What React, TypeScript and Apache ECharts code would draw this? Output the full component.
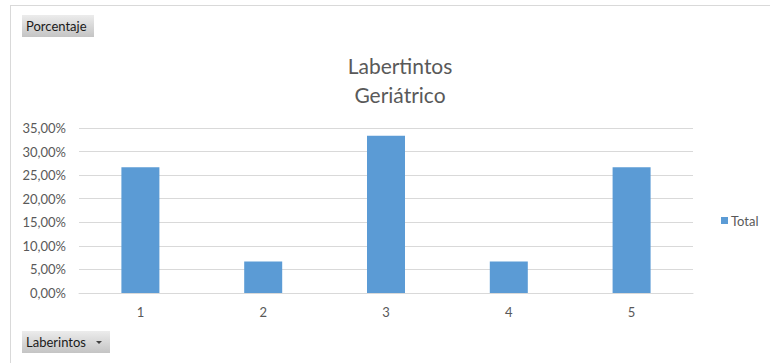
import React, { useEffect, useRef } from "react";
import * as echarts from "echarts";

const categories = ["1", "2", "3", "4", "5"];
const totals = [26.67, 6.67, 33.33, 6.67, 26.67];
const titleLines = ["Labertintos", "Geriátrico"];
const seriesName = "Total";
const valueButton = "Porcentaje";
const axisButton = "Laberintos";

const FONT = "Lato, 'Open Sans', sans-serif";
const TEXT = "#595959";

function fieldButton(x: number, y: number, w: number, label: string, arrow: boolean) {
  const children: any[] = [
    {
      type: "rect",
      shape: { x: 0, y: 0, width: w, height: 22 },
      style: {
        fill: new echarts.graphic.LinearGradient(0, 0, 0, 1, [
          { offset: 0, color: "#ececec" },
          { offset: 1, color: "#c4c4c4" },
        ]),
      },
    },
    {
      type: "text",
      x: 4,
      y: 11,
      style: { text: label, fill: "#1a1a1a", font: `13px ${FONT}`, verticalAlign: "middle" },
    },
  ];
  if (arrow) {
    children.push({
      type: "polygon",
      shape: { points: [[w - 14, 10], [w - 8, 10], [w - 11, 13]] },
      style: { fill: "#404040" },
    });
  }
  return { type: "group", x, y, children };
}

export default function App() {
  const ref = useRef<HTMLDivElement>(null);

  useEffect(() => {
    const chart = echarts.init(ref.current!, undefined, { renderer: "svg" });
    chart.setOption({
      animation: false,
      backgroundColor: "#ffffff",
      title: {
        text: titleLines.join("\n"),
        left: 395,
        textAlign: "center",
        top: 46,
        textStyle: { color: TEXT, fontFamily: FONT, fontSize: 21, fontWeight: "normal", lineHeight: 29 },
      },
      legend: {
        data: [seriesName],
        orient: "vertical",
        left: 716,
        top: 209,
        itemWidth: 7,
        itemHeight: 7,
        itemGap: 4,
        icon: "rect",
        textStyle: { color: TEXT, fontFamily: FONT, fontSize: 13, padding: [0, 0, 0, -2] },
      },
      grid: { left: 79, right: 77, top: 128, bottom: 70, containLabel: false },
      xAxis: {
        type: "category",
        data: categories,
        axisLine: { lineStyle: { color: "#d9d9d9" } },
        axisTick: { show: false },
        axisLabel: { color: TEXT, fontFamily: FONT, fontSize: 13, margin: 12 },
      },
      yAxis: {
        type: "value",
        min: 0,
        max: 35,
        interval: 5,
        axisLine: { show: false },
        axisTick: { show: false },
        splitLine: { lineStyle: { color: "#d9d9d9" } },
        axisLabel: {
          color: TEXT,
          fontFamily: FONT,
          fontSize: 13,
          margin: 13,
          formatter: (v: number) => v.toFixed(2).replace(".", ",") + "%",
        },
      },
      series: [
        {
          name: seriesName,
          type: "bar",
          data: totals,
          barWidth: 38,
          itemStyle: { color: "#5b9bd5" },
        },
      ],
      graphic: [
        { type: "line", shape: { x1: 10, y1: 5.5, x2: 770, y2: 5.5 }, style: { stroke: "#d9d9d9", lineWidth: 1 } },
        { type: "line", shape: { x1: 10.5, y1: 5, x2: 10.5, y2: 363 }, style: { stroke: "#d9d9d9", lineWidth: 1 } },
        fieldButton(22, 15, 72, valueButton, false),
        fieldButton(22, 331, 88, axisButton, true),
      ],
    });
    return () => chart.dispose();
  }, []);

  return (
    <div
      ref={ref}
      style={{ position: "fixed", left: 0, top: 0, width: 770, height: 363 }}
    />
  );
}
